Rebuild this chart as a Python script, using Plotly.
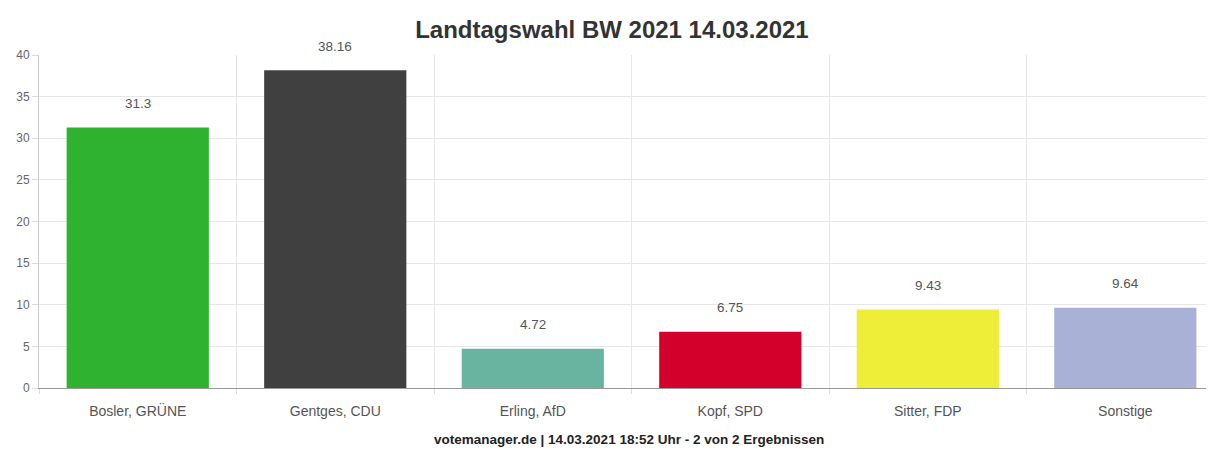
import plotly.graph_objects as go

categories = ["Bosler, GRÜNE", "Gentges, CDU", "Erling, AfD", "Kopf, SPD", "Sitter, FDP", "Sonstige"]
values = [31.3, 38.16, 4.72, 6.75, 9.43, 9.64]
labels = ["31.3", "38.16", "4.72", "6.75", "9.43", "9.64"]
colors = ["#2fb22f", "#404040", "#69b3a1", "#d3002b", "#eeee38", "#a9b1d6"]
y_ticks = [0, 5, 10, 15, 20, 25, 30, 35, 40]

FONT = "Liberation Sans, Arial, sans-serif"

fig = go.Figure()
fig.add_trace(go.Bar(
    x=categories, y=values, marker=dict(color=colors, line=dict(width=0)),
    width=0.72, hoverinfo="x+y",
))
for c, v, t in zip(categories, values, labels):
    fig.add_annotation(x=c, y=v, text=t, showarrow=False, yshift=24,
                       font=dict(family=FONT, size=13.5, color="#555555"))

fig.add_annotation(xref="paper", yref="paper", x=0.502, y=-0.156, yanchor="middle",
                   text="<b>votemanager.de | 14.03.2021 18:52 Uhr - 2 von 2 Ergebnissen</b>",
                   showarrow=False, font=dict(family=FONT, size=13.5, color="#222222"))

# the page body adds an 8px margin, so the figure is sized and placed to compensate
fig.update_layout(
    width=1206, height=445,
    paper_bgcolor="white", plot_bgcolor="white",
    margin=dict(l=31, r=0, t=47, b=65),
    title=dict(text="<b>Landtagswahl BW 2021 14.03.2021</b>", x=0.5008, xanchor="center",
               y=0.9506, yanchor="middle",
               font=dict(family=FONT, size=24, color="#333333")),
    showlegend=False,
)
fig.update_xaxes(
    type="category", range=[-0.5, 5.449], tickson="boundaries",
    showgrid=True, gridcolor="#e6e6e6", gridwidth=1,
    showline=True, linecolor="#999999", linewidth=1,
    ticks="outside", ticklen=5, tickcolor="#dddddd",
    ticklabelstandoff=10,
    tickfont=dict(family=FONT, size=14, color="#555555"),
)
fig.update_yaxes(
    range=[0, 40], tickvals=y_ticks, ticktext=[str(v) for v in y_ticks],
    showgrid=True, gridcolor="#e6e6e6", gridwidth=1,
    showline=True, linecolor="#cccccc", linewidth=1,
    ticks="outside", ticklen=6, tickcolor="#dddddd",
    tickfont=dict(family=FONT, size=12, color="#666666"),
    zeroline=False,
)
fig.write_html("out.html")
